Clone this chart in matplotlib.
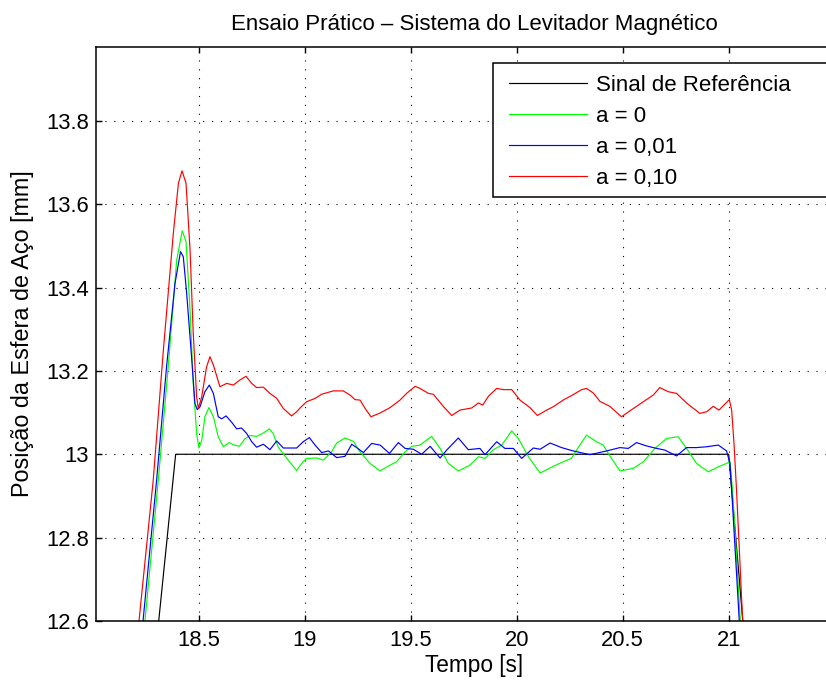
import matplotlib
matplotlib.use('Agg')
import matplotlib.pyplot as plt
from matplotlib.patches import Rectangle
from matplotlib.ticker import FuncFormatter

plt.rcParams['font.family'] = ['Liberation Sans', 'DejaVu Sans']
plt.rcParams['font.size'] = 15.8

# reference signal (rate-limited step)
ref_t = [18.27, 18.39, 21.0, 21.1]
ref_v = [12.4, 13.0, 13.0, 12.4]

# a = 0
g_t = [18.18, 18.245, 18.308, 18.355, 18.395, 18.421, 18.439, 18.458, 18.473, 18.489,
       18.5, 18.513, 18.528, 18.547, 18.568, 18.591, 18.615, 18.642, 18.662, 18.69,
       18.717, 18.741, 18.772, 18.804, 18.832, 18.851, 18.874, 18.898, 18.929, 18.961,
       18.989, 19.008, 19.056, 19.087, 19.126, 19.15, 19.189, 19.229, 19.26, 19.307,
       19.355, 19.402, 19.433, 19.473, 19.504, 19.543, 19.598, 19.638, 19.677, 19.724,
       19.779, 19.819, 19.85, 19.889, 19.929, 19.976, 20.007, 20.055, 20.11, 20.172,
       20.219, 20.258, 20.282, 20.329, 20.376, 20.408, 20.447, 20.487, 20.549, 20.597,
       20.652, 20.707, 20.762, 20.801, 20.848, 20.904, 20.951, 20.99, 21.006, 21.018,
       21.055, 21.08]
g_v = [12.25, 12.6, 12.937, 13.21, 13.466, 13.536, 13.51, 13.346, 13.17, 13.05,
       13.015, 13.033, 13.09, 13.112, 13.09, 13.042, 13.018, 13.028, 13.023, 13.019,
       13.037, 13.045, 13.043, 13.051, 13.061, 13.049, 13.017, 13.001, 12.981, 12.961,
       12.981, 12.99, 12.991, 12.986, 13.006, 13.027, 13.039, 13.031, 13.006, 12.978,
       12.96, 12.974, 12.982, 13.006, 13.019, 13.022, 13.043, 13.014, 12.978, 12.96,
       12.974, 12.994, 12.99, 13.011, 13.022, 13.056, 13.038, 12.994, 12.955, 12.971,
       12.982, 12.99, 13.01, 13.046, 13.03, 13.022, 12.99, 12.96, 12.966, 12.982,
       13.014, 13.038, 13.042, 13.014, 12.978, 12.958, 12.97, 12.978, 12.982, 12.914,
       12.6, 12.45]

# a = 0,01
b_t = [18.18, 18.236, 18.3, 18.347, 18.387, 18.413, 18.426, 18.442, 18.465, 18.481,
       18.492, 18.505, 18.528, 18.549, 18.568, 18.591, 18.607, 18.628, 18.654, 18.678,
       18.701, 18.725, 18.749, 18.772, 18.804, 18.835, 18.867, 18.898, 18.929, 18.961,
       18.992, 19.021, 19.048, 19.079, 19.111, 19.15, 19.189, 19.221, 19.244, 19.276,
       19.315, 19.355, 19.399, 19.441, 19.473, 19.512, 19.551, 19.591, 19.638, 19.669,
       19.724, 19.771, 19.826, 19.85, 19.905, 19.944, 19.984, 20.023, 20.078, 20.11,
       20.157, 20.211, 20.266, 20.345, 20.424, 20.487, 20.526, 20.565, 20.612, 20.66,
       20.699, 20.754, 20.801, 20.848, 20.896, 20.951, 20.99, 21.006, 21.014, 21.05,
       21.08]
b_v = [12.3, 12.6, 12.937, 13.21, 13.41, 13.486, 13.474, 13.386, 13.234, 13.122,
       13.107, 13.114, 13.15, 13.166, 13.146, 13.09, 13.085, 13.092, 13.077, 13.061,
       13.063, 13.05, 13.03, 13.017, 13.024, 13.011, 13.032, 13.015, 13.015, 13.015,
       13.03, 13.04, 13.022, 13.004, 13.008, 12.992, 12.995, 13.024, 13.016, 13.004,
       13.026, 13.022, 13.002, 13.028, 13.014, 13.012, 13.0, 13.019, 12.991, 13.01,
       13.039, 13.011, 13.014, 12.999, 13.03, 13.014, 13.014, 12.99, 13.015, 13.012,
       13.027, 13.016, 13.008, 12.999, 13.008, 13.016, 13.014, 13.028, 13.02, 13.014,
       13.01, 12.996, 13.016, 13.016, 13.018, 13.022, 13.008, 12.978, 12.914, 12.6,
       12.4]

# a = 0,10
r_t = [18.18, 18.217, 18.284, 18.332, 18.379, 18.403, 18.42, 18.439, 18.458, 18.473,
       18.489, 18.497, 18.513, 18.536, 18.552, 18.568, 18.599, 18.631, 18.662, 18.693,
       18.722, 18.749, 18.772, 18.804, 18.835, 18.867, 18.898, 18.937, 18.961, 18.977,
       19.008, 19.048, 19.079, 19.134, 19.181, 19.213, 19.237, 19.26, 19.284, 19.312,
       19.355, 19.402, 19.449, 19.48, 19.52, 19.543, 19.583, 19.606, 19.653, 19.693,
       19.732, 19.787, 19.819, 19.839, 19.866, 19.905, 19.937, 19.976, 20.015, 20.062,
       20.097, 20.141, 20.172, 20.219, 20.266, 20.306, 20.329, 20.361, 20.392, 20.439,
       20.494, 20.542, 20.597, 20.644, 20.675, 20.715, 20.754, 20.801, 20.864, 20.896,
       20.927, 20.954, 21.003, 21.014, 21.025, 21.037, 21.066, 21.09]
r_v = [12.41, 12.6, 12.937, 13.25, 13.53, 13.65, 13.68, 13.65, 13.49, 13.29,
       13.138, 13.11, 13.138, 13.21, 13.234, 13.214, 13.162, 13.17, 13.166, 13.178,
       13.187, 13.17, 13.16, 13.161, 13.146, 13.134, 13.11, 13.092, 13.102, 13.111,
       13.126, 13.134, 13.144, 13.152, 13.152, 13.142, 13.131, 13.13, 13.11, 13.09,
       13.099, 13.112, 13.13, 13.146, 13.163, 13.158, 13.146, 13.144, 13.115, 13.093,
       13.106, 13.111, 13.123, 13.118, 13.139, 13.158, 13.155, 13.155, 13.13, 13.112,
       13.093, 13.106, 13.114, 13.13, 13.143, 13.155, 13.158, 13.147, 13.127, 13.115,
       13.09, 13.107, 13.126, 13.142, 13.16, 13.15, 13.146, 13.123, 13.098, 13.102,
       13.115, 13.106, 13.131, 13.106, 13.026, 12.914, 12.6, 12.4]

x_ticks = [18.5, 19, 19.5, 20, 20.5, 21]
y_ticks = [12.6, 12.8, 13.0, 13.2, 13.4, 13.6, 13.8]

fig = plt.figure(figsize=(8.26, 6.81), dpi=100)
ax = fig.add_axes([0.1162, 0.0881, 0.9153, 0.8429])

lw = 0.85
ax.plot(ref_t, ref_v, color='k', lw=lw, label='Sinal de Referência')
ax.plot(g_t, g_v, color=(0, 1, 0), lw=lw, label='a = 0')
ax.plot(b_t, b_v, color=(0, 0, 1), lw=lw, label='a = 0,01')
ax.plot(r_t, r_v, color=(1, 0, 0), lw=lw, label='a = 0,10')

ax.set_xlim(18.014, 21.582)
ax.set_ylim(12.6, 13.977)
ax.set_xticks(x_ticks)
ax.set_yticks(y_ticks)
fmt = FuncFormatter(lambda v, p: '%g' % round(v, 2))
ax.xaxis.set_major_formatter(fmt)
ax.yaxis.set_major_formatter(fmt)

ax.grid(True, color='k', lw=0.8, linestyle=(0, (1, 7)))
ax.tick_params(direction='in', top=True, right=True, length=4.5, width=1,
               labelsize=15.8)
ax.tick_params(axis='x', pad=6.5)
ax.tick_params(axis='y', pad=5)
for s in ax.spines.values():
    s.set_linewidth(1.1)

ax.set_title('Ensaio Prático – Sistema do Levitador Magnético', pad=12,
             fontsize=16)
ax.set_xlabel('Tempo [s]', labelpad=2, fontsize=16.3)
ax.set_ylabel('Posição da Esfera de Aço [mm]', labelpad=9, fontsize=16.8)

# legend box drawn separately so it can run off the right edge
ax.add_patch(Rectangle((0.525, 0.7387), 0.6, 0.2334, transform=ax.transAxes,
                       facecolor='white', edgecolor='k', lw=1.1, zorder=4))
leg = ax.legend(loc='upper left', bbox_to_anchor=(0.5463, 0.9512),
                borderaxespad=0, borderpad=0, fontsize=16, frameon=False,
                handlelength=3.5, handletextpad=0.4, labelspacing=0.45)
leg.set_zorder(5)

fig.savefig('out.png', dpi=100)
